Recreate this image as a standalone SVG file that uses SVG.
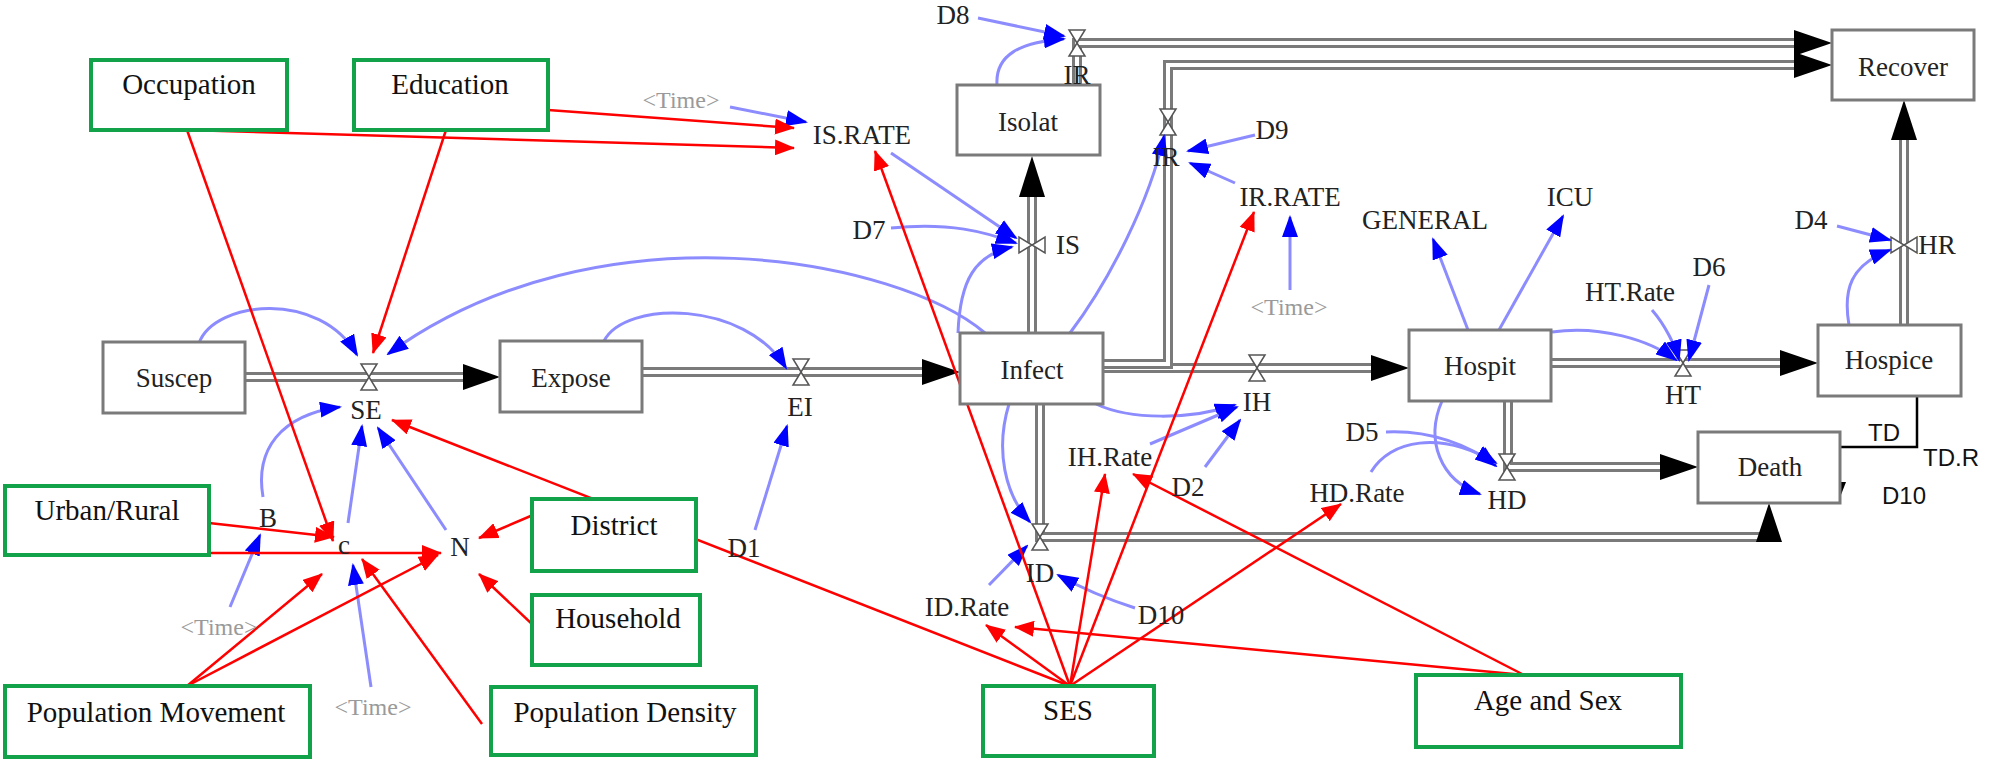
<svg xmlns="http://www.w3.org/2000/svg" width="1994" height="761" viewBox="0 0 1994 761">
<style>
.box{fill:#fff;stroke:#7a7a7a;stroke-width:3}
.gbox{fill:#fff;stroke:#12a24a;stroke-width:4}
.st{font-size:27px;fill:#222;text-anchor:middle}
.var{font-size:27px;fill:#222;text-anchor:middle}
.gt{font-size:29px;fill:#111;text-anchor:middle}
.time{font-size:24px;fill:#9a9a9a;text-anchor:middle}
.sans{font-size:24px;fill:#111;text-anchor:middle}
.pipeo{fill:none;stroke:#7a7a7a;stroke-width:10}
.pipei{fill:none;stroke:#fff;stroke-width:4}
.ah{fill:#000}
.blue{fill:none;stroke:#8c8cff;stroke-width:3;marker-end:url(#mb)}
.red{fill:none;stroke:#ff0000;stroke-width:2.5;marker-end:url(#mr)}
.valve{fill:#fff;stroke:#555;stroke-width:1.5}
</style>
<defs>
<marker id="mb" markerUnits="userSpaceOnUse" markerWidth="22" markerHeight="16" refX="20" refY="8" orient="auto"><path d="M0,0 L22,8 L0,16 Z" fill="#0000ff"/></marker>
<marker id="mr" markerUnits="userSpaceOnUse" markerWidth="20" markerHeight="16" refX="19" refY="8" orient="auto"><path d="M0,0 L20,8 L0,16 Z" fill="#ff0000"/></marker>
<g id="valve"><path class="valve" d="M-8,-13 L8,-13 L0,0 Z M-8,13 L8,13 L0,0 Z"/></g>
</defs>

<!-- flow pipes -->
<g id="pipes">
<path class="pipeo" d="M245,377 H466"/><path class="pipei" d="M245,377 H466"/>
<path class="pipeo" d="M642,372 H924"/><path class="pipei" d="M642,372 H924"/>
<path class="pipeo" d="M1103,368 H1373"/><path class="pipei" d="M1103,368 H1373"/>
<path class="pipeo" d="M1551,363 H1782"/><path class="pipei" d="M1551,363 H1782"/>
<path class="pipeo" d="M1904,325 V138"/><path class="pipei" d="M1904,325 V138"/>
<path class="pipeo" d="M1032,333 V193"/><path class="pipei" d="M1032,333 V193"/>
<path class="pipeo" d="M1077,85 V43 H1796"/><path class="pipei" d="M1077,85 V43 H1796"/>
<path class="pipeo" d="M1103,364 H1168 V65 H1796"/><path class="pipei" d="M1103,364 H1168 V65 H1796"/>
<path class="pipeo" d="M1040,404 V537 H1769 V541"/><path class="pipei" d="M1040,404 V537 H1769 V541"/>
<path class="pipeo" d="M1508,401 V467 H1662"/><path class="pipei" d="M1508,401 V467 H1662"/>
<polygon class="ah" points="463,364 500,377 463,390"/>
<polygon class="ah" points="922,359 960,372 922,385"/>
<polygon class="ah" points="1371,355 1409,368 1371,381"/>
<polygon class="ah" points="1780,350 1818,363 1780,376"/>
<polygon class="ah" points="1891,140 1904,100 1917,140"/>
<polygon class="ah" points="1019,197 1032,156 1045,197"/>
<polygon class="ah" points="1794,30 1832,43 1794,56"/>
<polygon class="ah" points="1794,52 1832,65 1794,78"/>
<polygon class="ah" points="1756,542 1769,503 1782,542"/>
<polygon class="ah" points="1660,454 1698,467 1660,480"/>
<use href="#valve" x="369" y="377"/>
<use href="#valve" x="801" y="372"/>
<use href="#valve" x="1257" y="368"/>
<use href="#valve" x="1683" y="363"/>
<use href="#valve" x="1077" y="43"/>
<use href="#valve" x="1168" y="122"/>
<use href="#valve" x="1507" y="467"/>
<use href="#valve" x="1040" y="537"/>
<use href="#valve" transform="translate(1032,245) rotate(90)"/>
<use href="#valve" transform="translate(1904,245) rotate(90)"/>
<path d="M1917,396 V447 H1839 V484" fill="none" stroke="#000" stroke-width="2.5"/>
<polygon points="1832,482 1839,500 1846,482" fill="#000"/>
</g>

<!-- connectors -->
<g id="connectors">
<path class="blue" d="M199,343 C215,300 320,290 357,355"/>
<path class="blue" d="M604,341 C625,300 745,300 786,368"/>
<path class="blue" d="M985,333 C900,260 600,200 388,354"/>
<path class="blue" d="M958,333 C960,280 975,255 1012,247"/>
<path class="blue" d="M891,153 L1016,238"/>
<path class="blue" d="M891,228 C950,222 985,232 1016,243"/>
<path class="blue" d="M730,107 L806,122"/>
<path class="blue" d="M997,85 C995,55 1020,42 1064,39"/>
<path class="blue" d="M978,18 L1064,36"/>
<path class="blue" d="M1070,333 C1110,280 1150,200 1164,136"/>
<path class="blue" d="M1255,135 L1188,151"/>
<path class="blue" d="M1235,183 L1190,163"/>
<path class="blue" d="M1290,290 L1290,217"/>
<path class="blue" d="M1849,325 C1843,290 1850,265 1890,250"/>
<path class="blue" d="M1837,226 L1890,240"/>
<path class="blue" d="M1468,330 L1433,239"/>
<path class="blue" d="M1499,330 L1563,216"/>
<path class="blue" d="M1552,332 C1600,325 1650,340 1676,360"/>
<path class="blue" d="M1652,310 C1665,325 1675,345 1679,360"/>
<path class="blue" d="M1709,285 L1689,360"/>
<path class="blue" d="M1096,404 C1130,420 1190,420 1235,405"/>
<path class="blue" d="M1150,444 L1237,407"/>
<path class="blue" d="M1205,467 L1240,420"/>
<path class="blue" d="M1009,404 C995,450 1005,495 1030,522"/>
<path class="blue" d="M989,585 L1027,546"/>
<path class="blue" d="M1135,608 C1110,600 1085,590 1058,575"/>
<path class="blue" d="M755,530 L787,426"/>
<path class="blue" d="M1442,401 C1425,440 1440,480 1480,494"/>
<path class="blue" d="M1386,432 C1430,430 1470,445 1496,466"/>
<path class="blue" d="M1371,472 C1390,440 1440,430 1496,463"/>
<path class="blue" d="M263,497 C255,450 280,415 340,407"/>
<path class="blue" d="M348,523 L362,426"/>
<path class="blue" d="M446,530 L378,428"/>
<path class="blue" d="M230,607 L260,535"/>
<path class="blue" d="M371,687 L353,565"/>

<path class="red" d="M548,110 L794,128"/>
<path class="red" d="M187,130 L794,148"/>
<path class="red" d="M187,130 L333,541"/>
<path class="red" d="M446,130 L373,353"/>
<path class="red" d="M209,523 L334,537"/>
<path class="red" d="M209,553 L441,553"/>
<path class="red" d="M533,515 L479,538"/>
<path class="red" d="M533,625 L479,574"/>
<path class="red" d="M187,686 L322,574"/>
<path class="red" d="M187,686 L438,555"/>
<path class="red" d="M482,724 L362,559"/>
<path class="red" d="M1070,686 L392,420"/>
<path class="red" d="M1070,686 L986,625"/>
<path class="red" d="M1070,686 L875,151"/>
<path class="red" d="M1070,686 L1105,474"/>
<path class="red" d="M1070,686 L1254,212"/>
<path class="red" d="M1070,686 L1341,504"/>
<path class="red" d="M1524,675 L1015,627"/>
<path class="red" d="M1524,675 L1133,474"/>
</g>

<g font-family="Liberation Serif, Times New Roman, DejaVu Serif, serif">
<!-- stocks -->
<g id="Suscep"><rect class="box" x="103" y="342" width="142" height="71"/><text class="st" x="174" y="387">Suscep</text></g>
<g id="Expose"><rect class="box" x="500" y="341" width="142" height="71"/><text class="st" x="571" y="387">Expose</text></g>
<g id="Infect"><rect class="box" x="960" y="333" width="143" height="71"/><text class="st" x="1032" y="379">Infect</text></g>
<g id="Isolat"><rect class="box" x="957" y="85" width="143" height="70"/><text class="st" x="1028" y="131">Isolat</text></g>
<g id="Hospit"><rect class="box" x="1409" y="330" width="142" height="71"/><text class="st" x="1480" y="375">Hospit</text></g>
<g id="Hospice"><rect class="box" x="1818" y="325" width="143" height="71"/><text class="st" x="1889" y="369">Hospice</text></g>
<g id="Recover"><rect class="box" x="1832" y="30" width="142" height="70"/><text class="st" x="1903" y="76">Recover</text></g>
<g id="Death"><rect class="box" x="1698" y="432" width="142" height="71"/><text class="st" x="1770" y="476">Death</text></g>

<!-- variables -->
<g id="vars">
<text class="var" x="366" y="419">SE</text>
<text class="var" x="800" y="416">EI</text>
<text class="var" x="1257" y="411">IH</text>
<text class="var" x="1683" y="404">HT</text>
<text class="var" x="1077" y="84">IR</text>
<text class="var" x="1166" y="166">IR</text>
<text class="var" x="1068" y="254">IS</text>
<text class="var" x="1937" y="254">HR</text>
<text class="var" x="1507" y="509">HD</text>
<text class="var" x="1040" y="582">ID</text>
<text class="var" x="862" y="144">IS.RATE</text>
<text class="var" x="1290" y="206">IR.RATE</text>
<text class="var" x="869" y="239">D7</text>
<text class="var" x="953" y="24">D8</text>
<text class="var" x="1272" y="139">D9</text>
<text class="var" x="1425" y="229">GENERAL</text>
<text class="var" x="1570" y="206">ICU</text>
<text class="var" x="1811" y="229">D4</text>
<text class="var" x="1630" y="301">HT.Rate</text>
<text class="var" x="1709" y="276">D6</text>
<text class="var" x="1110" y="466">IH.Rate</text>
<text class="var" x="1188" y="496">D2</text>
<text class="var" x="1362" y="441">D5</text>
<text class="var" x="1357" y="502">HD.Rate</text>
<text class="var" x="967" y="616">ID.Rate</text>
<text class="var" x="1161" y="624">D10</text>
<text class="var" x="744" y="557">D1</text>
<text class="var" x="268" y="527">B</text>
<text class="var" x="344" y="554">c</text>
<text class="var" x="460" y="556">N</text>
<text class="time" x="681" y="108">&lt;Time&gt;</text>
<text class="time" x="1289" y="315">&lt;Time&gt;</text>
<text class="time" x="219" y="635">&lt;Time&gt;</text>
<text class="time" x="373" y="715">&lt;Time&gt;</text>
<text class="sans" font-family="Liberation Sans, Arial, sans-serif" x="1884" y="441">TD</text>
<text class="sans" font-family="Liberation Sans, Arial, sans-serif" x="1951" y="466">TD.R</text>
<text class="sans" font-family="Liberation Sans, Arial, sans-serif" x="1904" y="504">D10</text>
</g>

<!-- factor boxes -->
<g id="Occupation"><rect class="gbox" x="91" y="60" width="196" height="70"/><text class="gt" x="189" y="94">Occupation</text></g>
<g id="Education"><rect class="gbox" x="354" y="60" width="194" height="70"/><text class="gt" x="450" y="94">Education</text></g>
<g id="UrbanRural"><rect class="gbox" x="5" y="486" width="204" height="69"/><text class="gt" x="107" y="520">Urban/Rural</text></g>
<g id="District"><rect class="gbox" x="532" y="499" width="164" height="72"/><text class="gt" x="614" y="535">District</text></g>
<g id="Household"><rect class="gbox" x="532" y="595" width="168" height="70"/><text class="gt" x="618" y="628">Household</text></g>
<g id="PopulationMovement"><rect class="gbox" x="5" y="686" width="305" height="71"/><text class="gt" x="156" y="722">Population Movement</text></g>
<g id="PopulationDensity"><rect class="gbox" x="491" y="687" width="265" height="68"/><text class="gt" x="625" y="722">Population Density</text></g>
<g id="SES"><rect class="gbox" x="983" y="686" width="171" height="70"/><text class="gt" x="1068" y="720">SES</text></g>
<g id="AgeSex"><rect class="gbox" x="1416" y="675" width="265" height="72"/><text class="gt" x="1548" y="710">Age and Sex</text></g>
</g>
</svg>
